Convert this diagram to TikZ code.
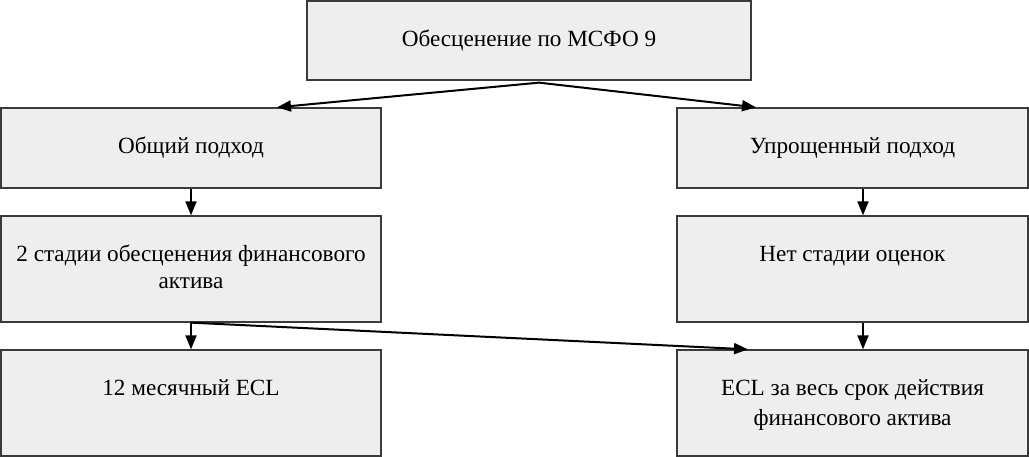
\documentclass[tikz,border=0pt]{standalone}
\usepackage{fontspec}
\setmainfont{Liberation Serif}
\usetikzlibrary{arrows.meta,positioning,calc}
\definecolor{boxfill}{HTML}{EEEEEE}
\definecolor{boxline}{HTML}{3A3A3A}
\tikzset{
  box/.style={draw=boxline, fill=boxfill, line width=1.3pt, inner sep=0pt},
  lbl/.style={anchor=base, align=center, yshift=-46pt, inner sep=0pt,
              font=\fontsize{23.2}{30}\selectfont, text=black},
  lbltwo/.style={lbl, yshift=-30pt},
  arr/.style={draw=black, line width=2pt, -{Triangle[length=14pt,width=11pt]}}
}
\begin{document}
\begin{tikzpicture}[x=1pt,y=-1pt, label distance=0pt]
\useasboundingbox (0,0) rectangle (1029,457);
\node[box, minimum width=444pt, minimum height=79pt,
  label={[lbl]north:Обесценение по МСФО 9}] (top) at (529,40.5) {};
\node[box, minimum width=380pt, minimum height=80pt,
  label={[lbl]north:Общий подход}] (b1) at (191,148) {};
\node[box, minimum width=380pt, minimum height=106pt,
  label={[lbltwo, font=\fontsize{23.2}{27}\selectfont, yshift=3pt]north:2 стадии обесценения финансового\\актива}] (b2) at (191,269) {};
\node[box, minimum width=380pt, minimum height=106pt,
  label={[lbl]north:12 месячный ECL}] (b3) at (191,403) {};
\node[box, minimum width=351pt, minimum height=80pt,
  label={[lbl]north:Упрощенный подход}] (b4) at (852.5,148) {};
\node[box, minimum width=351pt, minimum height=106pt,
  label={[lbl]north:Нет стадии оценок}] (b5) at (852.5,269) {};
\node[box, minimum width=351pt, minimum height=106pt,
  label={[lbltwo]north:ECL за весь срок действия\\финансового актива}] (b6) at (852.5,403) {};
\coordinate (apex) at ([xshift=10pt,yshift=-2pt]top.south);
\draw[arr] (apex) -- ([xshift=86pt]b1.north);
\draw[arr] (apex) -- ([xshift=-96.5pt]b4.north);
\draw[arr] (b1.south) -- (b2.north);
\draw[arr] (b2.south) -- (b3.north);
\draw[arr] ([xshift=10.5pt]b4.south) -- ([xshift=10.5pt]b5.north);
\draw[arr] ([xshift=10.5pt]b5.south) -- ([xshift=10.5pt]b6.north);
\draw[arr] (b2.south) -- ([xshift=-104.5pt]b6.north);
\end{tikzpicture}
\end{document}
